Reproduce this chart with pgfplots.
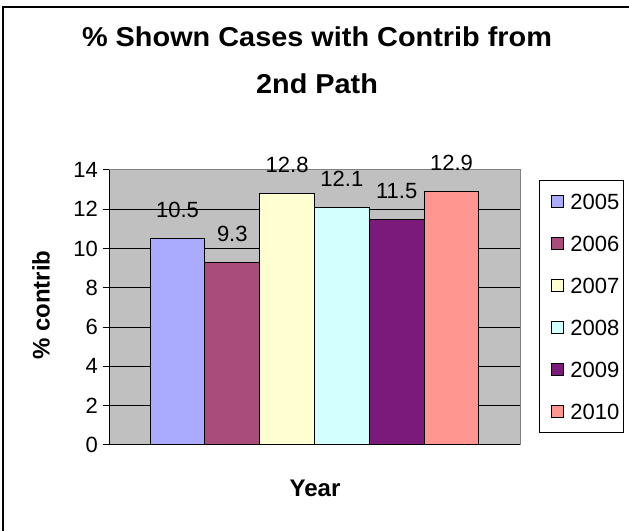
\documentclass[border=0pt]{standalone}
\usepackage{fontspec}
\setmainfont{Liberation Sans}
\usepackage{pgfplots}
\pgfplotsset{compat=1.18}
\definecolor{c1}{HTML}{AAAAFF}
\definecolor{c2}{HTML}{A94B7B}
\definecolor{c3}{HTML}{FFFFD2}
\definecolor{c4}{HTML}{D2FFFF}
\definecolor{c5}{HTML}{7B1A7B}
\definecolor{c6}{HTML}{FF9690}
\definecolor{plotgray}{HTML}{C0C0C0}
\definecolor{bordergray}{HTML}{808080}
\newcommand{\numfont}{\fontsize{22bp}{26bp}\selectfont}
\newcommand{\labfont}{\bfseries\fontsize{24bp}{28bp}\selectfont}
\newcommand{\titfont}{\bfseries\fontsize{26bp}{30bp}\selectfont}
\begin{document}
\begin{tikzpicture}[x=1bp,y=1bp]
\useasboundingbox (0,0) rectangle (629,531);
\draw[line width=2.3bp] (2.8,-5) -- (2.8,524) -- (640,524);
\node[anchor=base, font=\titfont] at (317,484) {\scalebox{1.11}[1.05]{\% Shown Cases with Contrib from}};
\node[anchor=base, font=\titfont] at (317,437) {\scalebox{1.11}[1.05]{2nd Path}};
\node[anchor=center, rotate=90, font=\labfont] at (41,226) {\% contrib};
\node[anchor=base, font=\labfont] at (315,34) {Year};
\begin{axis}[
  at={(109bp,86bp)}, anchor=south west,
  scale only axis, width=411bp, height=275bp,
  xmin=-1.25, xmax=6.25, ymin=0, ymax=14,
  xtick=\empty, ytick={0,2,...,14},
  ytick pos=left, tick align=outside, major tick length=6bp,
  tick style={black, line width=1bp},
  ymajorgrids, major grid style={black, line width=1bp},
  axis background/.style={fill=plotgray},
  axis line style={draw=bordergray, line width=1bp},
  clip=false,
  ticklabel style={font=\numfont},
  yticklabel style={inner sep=0pt, xshift=-5bp},
  /pgf/number format/fixed,
  /pgf/number format/precision=1,
  /pgf/number format/assume math mode=true,
  every node near coord/.append style={font=\numfont, text=black, anchor=base, yshift=21bp, inner sep=0pt},
  legend cell align=left,
  legend style={at={(1.0462,0.9636)}, anchor=north west, draw=black, line width=1bp, fill=white,
    inner xsep=4bp, inner ysep=13bp, row sep=26bp, column sep=6bp,
    nodes={inner sep=0pt, text height=16bp, text depth=0bp, font=\numfont}},
  legend image code/.code={\path (0bp,0bp); \draw[#1, draw=black, line width=1bp] (8bp,-6bp) rectangle (20bp,6bp);},
]
\addplot[ybar, bar width=1, bar shift=0pt, fill=c1, draw=black, line width=1bp, nodes near coords] coordinates {(0,10.5)};
\addlegendentry{2005}
\addplot[ybar, bar width=1, bar shift=0pt, fill=c2, draw=black, line width=1bp, nodes near coords] coordinates {(1,9.3)};
\addlegendentry{2006}
\addplot[ybar, bar width=1, bar shift=0pt, fill=c3, draw=black, line width=1bp, nodes near coords] coordinates {(2,12.8)};
\addlegendentry{2007}
\addplot[ybar, bar width=1, bar shift=0pt, fill=c4, draw=black, line width=1bp, nodes near coords] coordinates {(3,12.1)};
\addlegendentry{2008}
\addplot[ybar, bar width=1, bar shift=0pt, fill=c5, draw=black, line width=1bp, nodes near coords] coordinates {(4,11.5)};
\addlegendentry{2009}
\addplot[ybar, bar width=1, bar shift=0pt, fill=c6, draw=black, line width=1bp, nodes near coords] coordinates {(5,12.9)};
\addlegendentry{2010}
\draw[black, line width=1bp] (rel axis cs:0,1) -- (rel axis cs:0,0) -- (rel axis cs:1,0);
\end{axis}
\end{tikzpicture}
\end{document}
